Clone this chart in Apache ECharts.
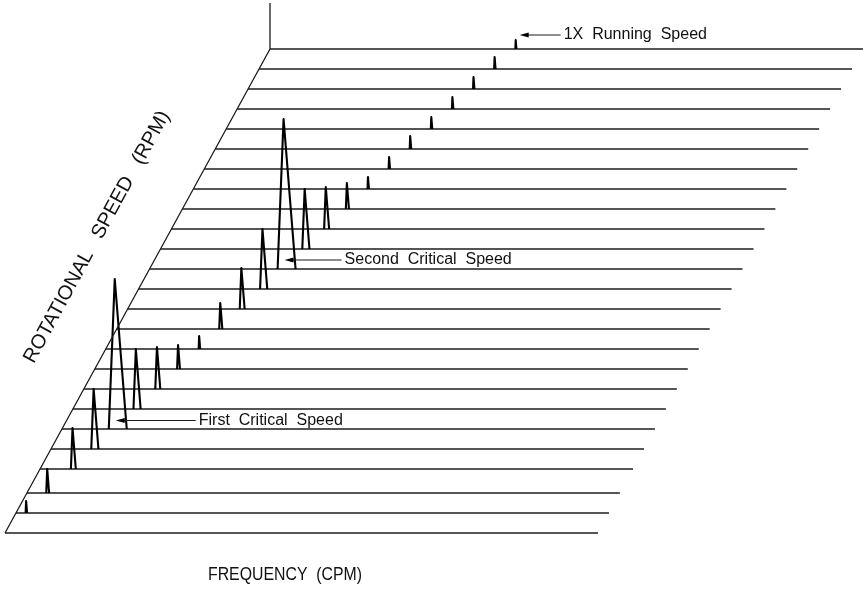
<!DOCTYPE html>
<html>
<head>
<meta charset="utf-8">
<title>Waterfall plot</title>
<script src="https://cdn.jsdelivr.net/npm/echarts@6/dist/echarts.min.js"></script>
<style>
  html, body { margin: 0; padding: 0; background: #ffffff; }
  #chart { width: 863px; height: 592px; }
</style>
</head>
<body>
<div id="chart"></div>
<script>
// Rotor speed of each spectrum trace, front to back (RPM)
const traceRpm = [0, 500, 1000, 1600, 2100, 2600, 3100, 3600, 4100, 4600, 5100, 5600, 6100,
                  6600, 7100, 7600, 8100, 8600, 9100, 9600, 10100, 10600, 11100, 11600, 12100];
// 1X amplitude of each trace (mils pk-pk); the peak sits at frequency = running speed
const peakAmp = [0, 0.24, 0.48, 0.82, 1.2, 3.0, 1.2, 0.84, 0.48, 0.26, 0.52, 0.82, 1.2,
                 3.0, 1.2, 0.84, 0.52, 0.24, 0.24, 0.26, 0.24, 0.24, 0.24, 0.24, 0.18];
// Spectrum span of every trace (CPM)
const freqSpan = 29200;
// Top of the amplitude axis drawn at the back corner (mils)
const ampAxisTop = 0.92;
// Callouts and the trace each one points at
const calloutText = ['1X  Running  Speed', 'Second  Critical  Speed', 'First  Critical  Speed'];
const calloutRpm = [12100, 6600, 2600];

// Oblique projection: frequency runs across, speed recedes up and to the right,
// amplitude rises vertically. Everything is expressed in (CPM, RPM) axis units.
const X_MAX = 42250;           // horizontal axis extent (CPM units)
const Y_MAX = 13325;           // vertical axis extent (RPM units)
const SHEAR = 1.0784;          // horizontal shift per RPM of depth
const AMP_TO_Y = 1250;         // vertical axis units per mil
const SKIRT_LO = 98;           // peak skirt below the apex, CPM per mil
const SKIRT_HI = 197;          // peak skirt above the apex, CPM per mil

const project = (f, r, a) => [f + r * SHEAR, r + (a || 0) * AMP_TO_Y];

const INK = '#1c1c1c';
const FONT = "'Liberation Sans', Arial, sans-serif";

// label placement relative to the peak each callout names (pixels)
const calloutLayout = [
  { dx: 4, rise: 14, len: 41 },
  { dx: 1, rise: 9, len: 57 },
  { dx: 1, rise: 8.5, len: 80 }
];

const chart = echarts.init(document.getElementById('chart'), null, { renderer: 'canvas' });

const topRpm = traceRpm[traceRpm.length - 1];

chart.setOption({
  animation: false,
  backgroundColor: '#ffffff',
  grid: { left: 5, top: 0, width: 858, height: 533, containLabel: false },
  xAxis: { type: 'value', min: 0, max: X_MAX, show: false },
  yAxis: { type: 'value', min: 0, max: Y_MAX, show: false },
  series: [
    {
      // speed axis (oblique) and amplitude axis (vertical, at the back)
      type: 'line',
      name: 'frame',
      symbol: 'none',
      silent: true,
      lineStyle: { color: INK, width: 1.3 },
      data: [project(0, 0), project(0, topRpm), project(0, topRpm, ampAxisTop)]
    },
    {
      // base line of every spectrum trace
      type: 'custom',
      name: 'traces',
      silent: true,
      data: traceRpm.map(r => [r, 0]),
      renderItem: function (params, api) {
        const r = api.value(0);
        const p0 = api.coord(project(0, r));
        const p1 = api.coord(project(freqSpan, r));
        return {
          type: 'line',
          shape: { x1: p0[0], y1: p0[1], x2: p1[0], y2: p1[1] },
          style: { stroke: INK, lineWidth: 1.3 }
        };
      }
    },
    {
      // 1X peaks
      type: 'custom',
      name: 'peaks',
      silent: true,
      data: traceRpm.map((r, i) => [r, peakAmp[i]]),
      renderItem: function (params, api) {
        const r = api.value(0);
        const a = api.value(1);
        if (!(a > 0)) return null;
        const lo = api.coord(project(r - a * SKIRT_LO, r));
        const apex = api.coord(project(r, r, a));
        const hi = api.coord(project(r + a * SKIRT_HI, r));
        return {
          type: 'polyline',
          shape: { points: [lo, apex, hi] },
          style: { stroke: '#000', lineWidth: 2.1, fill: null, lineJoin: 'round', lineCap: 'butt' }
        };
      }
    },
    {
      // callouts with arrows
      type: 'custom',
      name: 'callouts',
      silent: true,
      data: calloutRpm.map((r, i) => [r, i]),
      renderItem: function (params, api) {
        const r = api.value(0);
        const i = api.value(1);
        const lay = calloutLayout[i];
        const base = api.coord(project(r, r));
        const tx = base[0] + lay.dx;
        const ty = base[1] - lay.rise;
        const ex = tx + lay.len;
        return {
          type: 'group',
          children: [
            {
              type: 'line',
              shape: { x1: tx + 4, y1: ty, x2: ex, y2: ty },
              style: { stroke: INK, lineWidth: 1.1 }
            },
            {
              type: 'polygon',
              shape: { points: [[tx, ty], [tx + 9, ty - 2.4], [tx + 9, ty + 2.4]] },
              style: { fill: '#000' }
            },
            {
              type: 'text',
              x: ex + 3,
              y: ty,
              style: {
                text: calloutText[i],
                fill: '#111',
                font: '16px ' + FONT,
                textAlign: 'left',
                verticalAlign: 'middle'
              }
            }
          ]
        };
      }
    }
  ],
  graphic: [
    {
      type: 'text',
      x: 208,
      y: 575,
      scaleX: 0.88,
      style: {
        text: 'FREQUENCY  (CPM)',
        fill: '#111',
        font: '18px ' + FONT,
        textAlign: 'left',
        verticalAlign: 'middle'
      }
    },
    {
      type: 'text',
      x: 97,
      y: 237,
      rotation: 61.35 * Math.PI / 180,
      style: {
        text: 'ROTATIONAL   SPEED   (RPM)',
        fill: '#111',
        font: '20px ' + FONT,
        textAlign: 'center',
        verticalAlign: 'middle'
      }
    }
  ]
});
</script>
</body>
</html>
